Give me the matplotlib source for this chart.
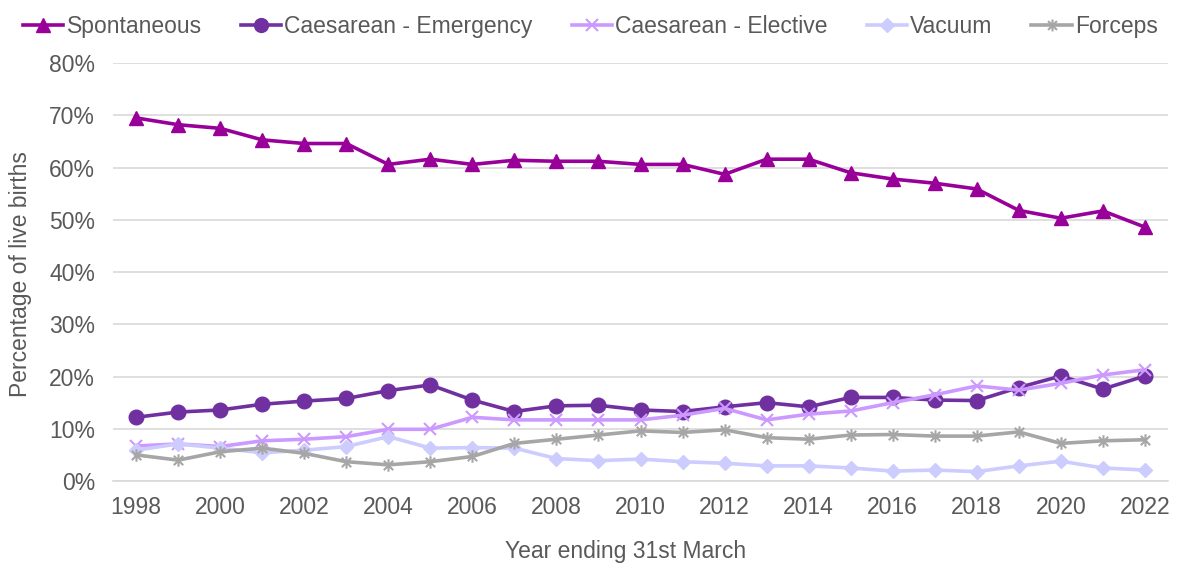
import matplotlib
matplotlib.use("Agg")
import matplotlib.pyplot as plt
from matplotlib.path import Path

years = list(range(1998, 2023))

spontaneous = [69.5, 68.2, 67.5, 65.3, 64.6, 64.6, 60.6, 61.6, 60.6, 61.4, 61.2, 61.2,
               60.6, 60.6, 58.7, 61.6, 61.6, 59.0, 57.8, 57.0, 55.9, 51.8, 50.3, 51.7, 48.6]
emergency = [12.2, 13.2, 13.6, 14.7, 15.3, 15.8, 17.3, 18.4, 15.5, 13.3, 14.4, 14.5,
             13.6, 13.3, 14.2, 15.0, 14.2, 16.0, 16.0, 15.5, 15.4, 17.9, 20.1, 17.6, 20.1]
elective = [6.7, 7.1, 6.6, 7.7, 8.0, 8.5, 9.9, 9.9, 12.2, 11.7, 11.7, 11.7,
            11.7, 12.6, 13.9, 11.7, 12.8, 13.4, 15.0, 16.5, 18.2, 17.4, 18.7, 20.3, 21.3]
vacuum = [5.9, 7.1, 6.3, 5.4, 5.9, 6.6, 8.5, 6.3, 6.4, 6.3, 4.3, 3.9,
          4.2, 3.7, 3.4, 2.9, 2.9, 2.5, 1.9, 2.1, 1.8, 2.9, 3.8, 2.5, 2.1]
forceps = [5.0, 4.0, 5.6, 6.3, 5.3, 3.7, 3.1, 3.7, 4.7, 7.2, 8.0, 8.8,
           9.6, 9.3, 9.8, 8.3, 8.0, 8.8, 8.9, 8.6, 8.6, 9.4, 7.2, 7.7, 7.9]

plt.rcParams["font.family"] = ["Liberation Sans", "DejaVu Sans"]
text_color = "#595959"
fs = 16.5

# Star marker: vertical stroke plus a cross
star = Path([(0, -1), (0, 1), (-0.75, -0.75), (0.75, 0.75), (-0.75, 0.75), (0.75, -0.75)],
            [Path.MOVETO, Path.LINETO, Path.MOVETO, Path.LINETO, Path.MOVETO, Path.LINETO])

fig = plt.figure(figsize=(11.81, 5.63), dpi=100)
ax = fig.add_axes([0.0957, 0.1456, 0.8933, 0.7424])

series = [
    ("Spontaneous", spontaneous, "#990099", "^", 10, 1.0),
    ("Caesarean - Emergency", emergency, "#7030A0", "o", 10.5, 1.0),
    ("Caesarean - Elective", elective, "#CC99FF", "x", 9, 1.5),
    ("Vacuum", vacuum, "#CCCCFF", "D", 7.5, 1.0),
    ("Forceps", forceps, "#A6A6A6", star, 9, 1.5),
]

for name, vals, color, mk, ms, mew in series:
    ax.plot(years, vals, color=color, lw=2.6, marker=mk, ms=ms,
            markeredgewidth=mew, markeredgecolor=color, markerfacecolor=color,
            label=name, solid_joinstyle="round", clip_on=False)

ax.set_xlim(1997.45, 2022.55)
ax.set_ylim(0, 80)
ax.set_yticks(range(0, 81, 10))
ax.set_yticklabels([f"{v}%" for v in range(0, 81, 10)])
ax.set_xticks(years[::2])
ax.grid(axis="y", color="#D9D9D9", lw=1.2)
ax.set_axisbelow(True)
for s in ["top", "right", "left"]:
    ax.spines[s].set_visible(False)
ax.spines["bottom"].set_color("#D9D9D9")
ax.spines["bottom"].set_linewidth(1.2)
ax.tick_params(axis="both", length=0, labelsize=fs, colors=text_color)
ax.tick_params(axis="y", pad=13)
ax.tick_params(axis="x", pad=11)

ax.set_xlabel("Year ending 31st March", fontsize=fs, color=text_color)
ax.set_ylabel("Percentage of live births", fontsize=fs, color=text_color)
ax.xaxis.set_label_coords(0.486, -0.14)
ax.yaxis.set_label_coords(-0.077, 0.495)

leg = fig.legend(loc="upper center", bbox_to_anchor=(0.5, 1.01), ncol=5, frameon=False,
                 fontsize=fs, handlelength=1.75, handletextpad=0.15, columnspacing=1.7,
                 markerscale=0.95)
for t in leg.get_texts():
    t.set_color(text_color)

fig.savefig("out.png", dpi=100)
